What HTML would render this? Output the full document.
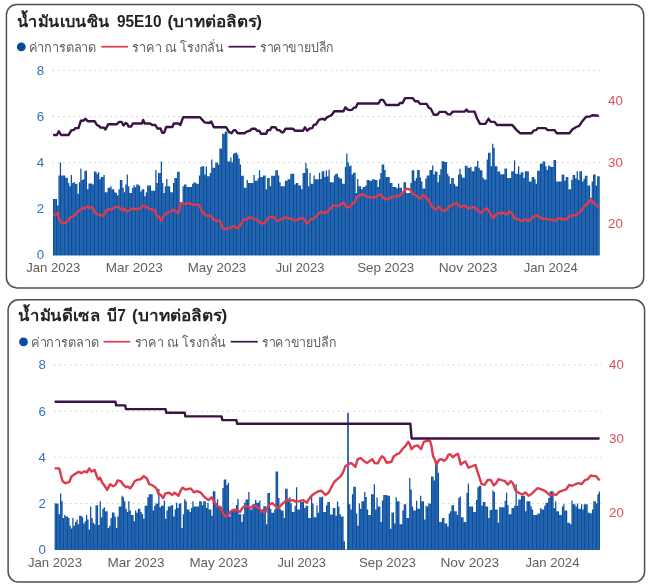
<!DOCTYPE html>
<html><head><meta charset="utf-8"><title>chart</title>
<style>
html,body{margin:0;padding:0;background:#fff;}
body{width:650px;height:588px;overflow:hidden;}
svg{display:block;filter:blur(0.45px);}
.ax{font-family:"Liberation Sans",sans-serif;font-size:13.3px;}
.xl{font-family:"Liberation Sans",sans-serif;font-size:13px;}
.tt{font-family:"Liberation Sans",sans-serif;font-size:15.6px;font-weight:bold;}
.lg{font-family:"Liberation Sans",sans-serif;font-size:13px;}
</style></head><body>
<svg width="650" height="588" viewBox="0 0 650 588">
<rect width="650" height="588" fill="#fff"/>
<rect x="6.4" y="4.4" width="637.3000000000001" height="283.5" rx="10.5" ry="10.5" fill="#fff" stroke="#505050" stroke-width="1.5"/>
<line x1="52.5" x2="600.0" y1="208.8" y2="208.8" stroke="#cccccc" stroke-width="1" stroke-dasharray="1.5 3.75"/>
<line x1="52.5" x2="600.0" y1="162.7" y2="162.7" stroke="#cccccc" stroke-width="1" stroke-dasharray="1.5 3.75"/>
<line x1="52.5" x2="600.0" y1="116.6" y2="116.6" stroke="#cccccc" stroke-width="1" stroke-dasharray="1.5 3.75"/>
<line x1="52.5" x2="600.0" y1="70.4" y2="70.4" stroke="#cccccc" stroke-width="1" stroke-dasharray="1.5 3.75"/>
<text x="44.2" y="259.4" text-anchor="end" fill="#3473BA" class="ax">0</text>
<text x="44.2" y="213.2" text-anchor="end" fill="#3473BA" class="ax">2</text>
<text x="44.2" y="167.1" text-anchor="end" fill="#3473BA" class="ax">4</text>
<text x="44.2" y="121.0" text-anchor="end" fill="#3473BA" class="ax">6</text>
<text x="44.2" y="74.8" text-anchor="end" fill="#3473BA" class="ax">8</text>
<text x="608.0" y="104.8" fill="#DA4E59" class="ax">40</text>
<text x="608.0" y="167.1" fill="#DA4E59" class="ax">30</text>
<text x="608.0" y="228.0" fill="#DA4E59" class="ax">20</text>
<path fill="#0850A2" d="M53.00 255.4V198.9h1.25V255.4zM54.36 255.4V198.9h1.25V255.4zM55.73 255.4V198.9h1.25V255.4zM57.09 255.4V205.4h1.25V255.4zM58.45 255.4V175.4h1.25V255.4zM59.82 255.4V162.6h1.25V255.4zM61.18 255.4V175.4h1.25V255.4zM62.55 255.4V175.4h1.25V255.4zM63.91 255.4V175.4h1.25V255.4zM65.27 255.4V177.7h1.25V255.4zM66.64 255.4V177.7h1.25V255.4zM68.00 255.4V183.1h1.25V255.4zM69.36 255.4V186.2h1.25V255.4zM70.73 255.4V174.9h1.25V255.4zM72.09 255.4V183.1h1.25V255.4zM73.46 255.4V182.0h1.25V255.4zM74.82 255.4V183.8h1.25V255.4zM76.18 255.4V183.8h1.25V255.4zM77.55 255.4V193.8h1.25V255.4zM78.91 255.4V182.3h1.25V255.4zM80.27 255.4V168.5h1.25V255.4zM81.64 255.4V180.0h1.25V255.4zM83.00 255.4V179.2h1.25V255.4zM84.37 255.4V170.8h1.25V255.4zM85.73 255.4V170.8h1.25V255.4zM87.09 255.4V189.2h1.25V255.4zM88.46 255.4V183.4h1.25V255.4zM89.82 255.4V183.4h1.25V255.4zM91.18 255.4V183.4h1.25V255.4zM92.55 255.4V184.6h1.25V255.4zM93.91 255.4V171.5h1.25V255.4zM95.27 255.4V171.5h1.25V255.4zM96.64 255.4V173.8h1.25V255.4zM98.00 255.4V172.3h1.25V255.4zM99.37 255.4V179.2h1.25V255.4zM100.73 255.4V176.9h1.25V255.4zM102.09 255.4V176.9h1.25V255.4zM103.46 255.4V174.9h1.25V255.4zM104.82 255.4V192.3h1.25V255.4zM106.18 255.4V192.3h1.25V255.4zM107.55 255.4V187.7h1.25V255.4zM108.91 255.4V187.7h1.25V255.4zM110.28 255.4V186.2h1.25V255.4zM111.64 255.4V189.2h1.25V255.4zM113.00 255.4V189.2h1.25V255.4zM114.37 255.4V192.3h1.25V255.4zM115.73 255.4V193.1h1.25V255.4zM117.09 255.4V195.4h1.25V255.4zM118.46 255.4V189.2h1.25V255.4zM119.82 255.4V180.0h1.25V255.4zM121.19 255.4V180.0h1.25V255.4zM122.55 255.4V187.7h1.25V255.4zM123.91 255.4V192.3h1.25V255.4zM125.28 255.4V184.6h1.25V255.4zM126.64 255.4V174.6h1.25V255.4zM128.00 255.4V186.2h1.25V255.4zM129.37 255.4V193.1h1.25V255.4zM130.73 255.4V193.1h1.25V255.4zM132.09 255.4V187.7h1.25V255.4zM133.46 255.4V185.1h1.25V255.4zM134.82 255.4V187.2h1.25V255.4zM136.19 255.4V184.6h1.25V255.4zM137.55 255.4V184.6h1.25V255.4zM138.91 255.4V185.7h1.25V255.4zM140.28 255.4V191.5h1.25V255.4zM141.64 255.4V189.2h1.25V255.4zM143.00 255.4V189.2h1.25V255.4zM144.37 255.4V196.2h1.25V255.4zM145.73 255.4V192.3h1.25V255.4zM147.10 255.4V185.4h1.25V255.4zM148.46 255.4V185.4h1.25V255.4zM149.82 255.4V185.4h1.25V255.4zM151.19 255.4V190.8h1.25V255.4zM152.55 255.4V190.8h1.25V255.4zM153.91 255.4V190.8h1.25V255.4zM155.28 255.4V170.0h1.25V255.4zM156.64 255.4V183.1h1.25V255.4zM158.00 255.4V173.1h1.25V255.4zM159.37 255.4V173.1h1.25V255.4zM160.73 255.4V161.5h1.25V255.4zM162.10 255.4V183.1h1.25V255.4zM163.46 255.4V193.1h1.25V255.4zM164.82 255.4V186.2h1.25V255.4zM166.19 255.4V178.9h1.25V255.4zM167.55 255.4V186.2h1.25V255.4zM168.91 255.4V186.2h1.25V255.4zM170.28 255.4V192.3h1.25V255.4zM171.64 255.4V192.3h1.25V255.4zM173.01 255.4V183.1h1.25V255.4zM174.37 255.4V178.0h1.25V255.4zM175.73 255.4V178.0h1.25V255.4zM177.10 255.4V171.8h1.25V255.4zM178.46 255.4V171.8h1.25V255.4zM179.82 255.4V202.3h1.25V255.4zM181.19 255.4V202.3h1.25V255.4zM182.55 255.4V186.2h1.25V255.4zM183.92 255.4V184.6h1.25V255.4zM185.28 255.4V184.6h1.25V255.4zM186.64 255.4V186.9h1.25V255.4zM188.01 255.4V186.9h1.25V255.4zM189.37 255.4V186.9h1.25V255.4zM190.73 255.4V186.9h1.25V255.4zM192.10 255.4V183.8h1.25V255.4zM193.46 255.4V182.6h1.25V255.4zM194.82 255.4V182.6h1.25V255.4zM196.19 255.4V183.8h1.25V255.4zM197.55 255.4V183.8h1.25V255.4zM198.92 255.4V175.4h1.25V255.4zM200.28 255.4V166.9h1.25V255.4zM201.64 255.4V166.2h1.25V255.4zM203.01 255.4V166.2h1.25V255.4zM204.37 255.4V174.6h1.25V255.4zM205.73 255.4V166.6h1.25V255.4zM207.10 255.4V176.2h1.25V255.4zM208.46 255.4V176.2h1.25V255.4zM209.83 255.4V173.1h1.25V255.4zM211.19 255.4V159.5h1.25V255.4zM212.55 255.4V167.7h1.25V255.4zM213.92 255.4V167.7h1.25V255.4zM215.28 255.4V162.6h1.25V255.4zM216.64 255.4V162.6h1.25V255.4zM218.01 255.4V164.6h1.25V255.4zM219.37 255.4V148.5h1.25V255.4zM220.74 255.4V148.5h1.25V255.4zM222.10 255.4V133.8h1.25V255.4zM223.46 255.4V133.8h1.25V255.4zM224.83 255.4V131.5h1.25V255.4zM226.19 255.4V131.5h1.25V255.4zM227.55 255.4V161.5h1.25V255.4zM228.92 255.4V161.5h1.25V255.4zM230.28 255.4V157.4h1.25V255.4zM231.64 255.4V162.3h1.25V255.4zM233.01 255.4V153.8h1.25V255.4zM234.37 255.4V152.8h1.25V255.4zM235.74 255.4V152.8h1.25V255.4zM237.10 255.4V154.6h1.25V255.4zM238.46 255.4V158.5h1.25V255.4zM239.83 255.4V164.6h1.25V255.4zM241.19 255.4V175.8h1.25V255.4zM242.55 255.4V175.8h1.25V255.4zM243.92 255.4V187.7h1.25V255.4zM245.28 255.4V187.7h1.25V255.4zM246.65 255.4V180.0h1.25V255.4zM248.01 255.4V183.1h1.25V255.4zM249.37 255.4V183.1h1.25V255.4zM250.74 255.4V183.1h1.25V255.4zM252.10 255.4V183.1h1.25V255.4zM253.46 255.4V174.9h1.25V255.4zM254.83 255.4V180.8h1.25V255.4zM256.19 255.4V180.8h1.25V255.4zM257.55 255.4V178.5h1.25V255.4zM258.92 255.4V170.3h1.25V255.4zM260.28 255.4V176.9h1.25V255.4zM261.65 255.4V176.9h1.25V255.4zM263.01 255.4V175.4h1.25V255.4zM264.37 255.4V175.4h1.25V255.4zM265.74 255.4V189.2h1.25V255.4zM267.10 255.4V178.0h1.25V255.4zM268.46 255.4V178.0h1.25V255.4zM269.83 255.4V186.2h1.25V255.4zM271.19 255.4V175.8h1.25V255.4zM272.56 255.4V175.8h1.25V255.4zM273.92 255.4V175.8h1.25V255.4zM275.28 255.4V170.3h1.25V255.4zM276.65 255.4V170.3h1.25V255.4zM278.01 255.4V175.4h1.25V255.4zM279.37 255.4V182.3h1.25V255.4zM280.74 255.4V186.2h1.25V255.4zM282.10 255.4V186.2h1.25V255.4zM283.47 255.4V186.2h1.25V255.4zM284.83 255.4V180.8h1.25V255.4zM286.19 255.4V180.8h1.25V255.4zM287.56 255.4V179.2h1.25V255.4zM288.92 255.4V179.2h1.25V255.4zM290.28 255.4V173.8h1.25V255.4zM291.65 255.4V173.8h1.25V255.4zM293.01 255.4V173.8h1.25V255.4zM294.37 255.4V184.6h1.25V255.4zM295.74 255.4V183.1h1.25V255.4zM297.10 255.4V183.1h1.25V255.4zM298.47 255.4V185.4h1.25V255.4zM299.83 255.4V185.4h1.25V255.4zM301.19 255.4V189.2h1.25V255.4zM302.56 255.4V173.1h1.25V255.4zM303.92 255.4V173.1h1.25V255.4zM305.28 255.4V163.1h1.25V255.4zM306.65 255.4V168.5h1.25V255.4zM308.01 255.4V186.2h1.25V255.4zM309.38 255.4V173.1h1.25V255.4zM310.74 255.4V183.8h1.25V255.4zM312.10 255.4V183.8h1.25V255.4zM313.47 255.4V175.4h1.25V255.4zM314.83 255.4V179.2h1.25V255.4zM316.19 255.4V179.2h1.25V255.4zM317.56 255.4V179.2h1.25V255.4zM318.92 255.4V172.8h1.25V255.4zM320.29 255.4V178.9h1.25V255.4zM321.65 255.4V171.2h1.25V255.4zM323.01 255.4V171.2h1.25V255.4zM324.38 255.4V176.9h1.25V255.4zM325.74 255.4V170.3h1.25V255.4zM327.10 255.4V176.2h1.25V255.4zM328.47 255.4V169.7h1.25V255.4zM329.83 255.4V182.3h1.25V255.4zM331.19 255.4V182.3h1.25V255.4zM332.56 255.4V182.3h1.25V255.4zM333.92 255.4V175.4h1.25V255.4zM335.29 255.4V173.8h1.25V255.4zM336.65 255.4V173.8h1.25V255.4zM338.01 255.4V176.9h1.25V255.4zM339.38 255.4V178.5h1.25V255.4zM340.74 255.4V178.5h1.25V255.4zM342.10 255.4V183.8h1.25V255.4zM343.47 255.4V183.8h1.25V255.4zM344.83 255.4V166.9h1.25V255.4zM346.20 255.4V153.4h1.25V255.4zM347.56 255.4V162.3h1.25V255.4zM348.92 255.4V166.2h1.25V255.4zM350.29 255.4V165.4h1.25V255.4zM351.65 255.4V174.6h1.25V255.4zM353.01 255.4V172.8h1.25V255.4zM354.38 255.4V172.8h1.25V255.4zM355.74 255.4V193.1h1.25V255.4zM357.11 255.4V178.9h1.25V255.4zM358.47 255.4V186.2h1.25V255.4zM359.83 255.4V186.2h1.25V255.4zM361.20 255.4V189.2h1.25V255.4zM362.56 255.4V186.9h1.25V255.4zM363.92 255.4V186.9h1.25V255.4zM365.29 255.4V185.4h1.25V255.4zM366.65 255.4V180.0h1.25V255.4zM368.01 255.4V180.0h1.25V255.4zM369.38 255.4V180.8h1.25V255.4zM370.74 255.4V180.8h1.25V255.4zM372.11 255.4V179.2h1.25V255.4zM373.47 255.4V179.2h1.25V255.4zM374.83 255.4V180.0h1.25V255.4zM376.20 255.4V180.0h1.25V255.4zM377.56 255.4V186.9h1.25V255.4zM378.92 255.4V179.2h1.25V255.4zM380.29 255.4V173.1h1.25V255.4zM381.65 255.4V164.6h1.25V255.4zM383.02 255.4V164.6h1.25V255.4zM384.38 255.4V170.0h1.25V255.4zM385.74 255.4V176.9h1.25V255.4zM387.11 255.4V176.9h1.25V255.4zM388.47 255.4V176.9h1.25V255.4zM389.83 255.4V183.1h1.25V255.4zM391.20 255.4V183.1h1.25V255.4zM392.56 255.4V186.9h1.25V255.4zM393.92 255.4V186.9h1.25V255.4zM395.29 255.4V186.9h1.25V255.4zM396.65 255.4V188.5h1.25V255.4zM398.02 255.4V183.5h1.25V255.4zM399.38 255.4V187.7h1.25V255.4zM400.74 255.4V187.7h1.25V255.4zM402.11 255.4V192.3h1.25V255.4zM403.47 255.4V182.3h1.25V255.4zM404.83 255.4V182.3h1.25V255.4zM406.20 255.4V193.1h1.25V255.4zM407.56 255.4V193.1h1.25V255.4zM408.93 255.4V193.1h1.25V255.4zM410.29 255.4V183.1h1.25V255.4zM411.65 255.4V170.3h1.25V255.4zM413.02 255.4V170.3h1.25V255.4zM414.38 255.4V180.8h1.25V255.4zM415.74 255.4V178.0h1.25V255.4zM417.11 255.4V170.0h1.25V255.4zM418.47 255.4V170.0h1.25V255.4zM419.84 255.4V177.4h1.25V255.4zM421.20 255.4V181.5h1.25V255.4zM422.56 255.4V188.5h1.25V255.4zM423.93 255.4V188.5h1.25V255.4zM425.29 255.4V178.5h1.25V255.4zM426.65 255.4V175.4h1.25V255.4zM428.02 255.4V175.4h1.25V255.4zM429.38 255.4V170.0h1.25V255.4zM430.74 255.4V170.0h1.25V255.4zM432.11 255.4V165.4h1.25V255.4zM433.47 255.4V174.6h1.25V255.4zM434.84 255.4V171.5h1.25V255.4zM436.20 255.4V171.5h1.25V255.4zM437.56 255.4V182.3h1.25V255.4zM438.93 255.4V174.9h1.25V255.4zM440.29 255.4V169.2h1.25V255.4zM441.65 255.4V161.2h1.25V255.4zM443.02 255.4V161.2h1.25V255.4zM444.38 255.4V162.0h1.25V255.4zM445.75 255.4V162.0h1.25V255.4zM447.11 255.4V173.8h1.25V255.4zM448.47 255.4V176.2h1.25V255.4zM449.84 255.4V183.8h1.25V255.4zM451.20 255.4V178.0h1.25V255.4zM452.56 255.4V178.0h1.25V255.4zM453.93 255.4V183.8h1.25V255.4zM455.29 255.4V186.2h1.25V255.4zM456.66 255.4V186.2h1.25V255.4zM458.02 255.4V174.6h1.25V255.4zM459.38 255.4V168.8h1.25V255.4zM460.75 255.4V174.6h1.25V255.4zM462.11 255.4V177.7h1.25V255.4zM463.47 255.4V177.7h1.25V255.4zM464.84 255.4V165.7h1.25V255.4zM466.20 255.4V165.7h1.25V255.4zM467.56 255.4V167.7h1.25V255.4zM468.93 255.4V167.7h1.25V255.4zM470.29 255.4V166.9h1.25V255.4zM471.66 255.4V171.2h1.25V255.4zM473.02 255.4V171.2h1.25V255.4zM474.38 255.4V166.6h1.25V255.4zM475.75 255.4V166.6h1.25V255.4zM477.11 255.4V160.8h1.25V255.4zM478.47 255.4V167.7h1.25V255.4zM479.84 255.4V170.3h1.25V255.4zM481.20 255.4V170.3h1.25V255.4zM482.57 255.4V177.7h1.25V255.4zM483.93 255.4V179.5h1.25V255.4zM485.29 255.4V179.5h1.25V255.4zM486.66 255.4V159.5h1.25V255.4zM488.02 255.4V152.8h1.25V255.4zM489.38 255.4V152.8h1.25V255.4zM490.75 255.4V166.2h1.25V255.4zM492.11 255.4V143.8h1.25V255.4zM493.48 255.4V147.7h1.25V255.4zM494.84 255.4V166.2h1.25V255.4zM496.20 255.4V166.2h1.25V255.4zM497.57 255.4V171.5h1.25V255.4zM498.93 255.4V171.5h1.25V255.4zM500.29 255.4V174.3h1.25V255.4zM501.66 255.4V174.3h1.25V255.4zM503.02 255.4V174.3h1.25V255.4zM504.38 255.4V168.5h1.25V255.4zM505.75 255.4V168.5h1.25V255.4zM507.11 255.4V178.0h1.25V255.4zM508.48 255.4V178.0h1.25V255.4zM509.84 255.4V178.0h1.25V255.4zM511.20 255.4V171.2h1.25V255.4zM512.57 255.4V171.2h1.25V255.4zM513.93 255.4V160.3h1.25V255.4zM515.29 255.4V173.8h1.25V255.4zM516.66 255.4V173.8h1.25V255.4zM518.02 255.4V166.2h1.25V255.4zM519.39 255.4V174.6h1.25V255.4zM520.75 255.4V172.3h1.25V255.4zM522.11 255.4V172.3h1.25V255.4zM523.48 255.4V178.0h1.25V255.4zM524.84 255.4V171.2h1.25V255.4zM526.20 255.4V171.2h1.25V255.4zM527.57 255.4V171.2h1.25V255.4zM528.93 255.4V181.5h1.25V255.4zM530.29 255.4V181.5h1.25V255.4zM531.66 255.4V176.9h1.25V255.4zM533.02 255.4V176.9h1.25V255.4zM534.39 255.4V179.2h1.25V255.4zM535.75 255.4V183.8h1.25V255.4zM537.11 255.4V170.8h1.25V255.4zM538.48 255.4V170.8h1.25V255.4zM539.84 255.4V163.8h1.25V255.4zM541.20 255.4V163.8h1.25V255.4zM542.57 255.4V161.5h1.25V255.4zM543.93 255.4V161.5h1.25V255.4zM545.30 255.4V166.2h1.25V255.4zM546.66 255.4V170.0h1.25V255.4zM548.02 255.4V165.4h1.25V255.4zM549.39 255.4V166.2h1.25V255.4zM550.75 255.4V166.9h1.25V255.4zM552.11 255.4V166.9h1.25V255.4zM553.48 255.4V160.0h1.25V255.4zM554.84 255.4V160.0h1.25V255.4zM556.21 255.4V181.5h1.25V255.4zM557.57 255.4V181.5h1.25V255.4zM558.93 255.4V181.5h1.25V255.4zM560.30 255.4V181.5h1.25V255.4zM561.66 255.4V174.6h1.25V255.4zM563.02 255.4V174.6h1.25V255.4zM564.39 255.4V180.8h1.25V255.4zM565.75 255.4V176.9h1.25V255.4zM567.11 255.4V176.9h1.25V255.4zM568.48 255.4V189.2h1.25V255.4zM569.84 255.4V189.2h1.25V255.4zM571.21 255.4V180.0h1.25V255.4zM572.57 255.4V174.9h1.25V255.4zM573.93 255.4V174.9h1.25V255.4zM575.30 255.4V178.5h1.25V255.4zM576.66 255.4V171.2h1.25V255.4zM578.02 255.4V180.0h1.25V255.4zM579.39 255.4V171.2h1.25V255.4zM580.75 255.4V171.2h1.25V255.4zM582.12 255.4V181.5h1.25V255.4zM583.48 255.4V178.9h1.25V255.4zM584.84 255.4V175.8h1.25V255.4zM586.21 255.4V175.8h1.25V255.4zM587.57 255.4V185.4h1.25V255.4zM588.93 255.4V185.4h1.25V255.4zM590.30 255.4V197.7h1.25V255.4zM591.66 255.4V181.5h1.25V255.4zM593.03 255.4V174.6h1.25V255.4zM594.39 255.4V174.6h1.25V255.4zM595.75 255.4V185.4h1.25V255.4zM597.12 255.4V176.2h1.25V255.4zM598.48 255.4V176.2h1.25V255.4z"/>

<polyline fill="none" stroke="#DE3A4E" stroke-width="2.4" stroke-linejoin="round" stroke-linecap="butt" points="53.1,214.9 56.2,214.6 57.7,212.3 59.2,219.2 60.8,222.3 63.8,223.1 66.9,222.0 69.2,218.9 71.5,216.9 74.6,215.4 77.7,211.5 80.8,209.7 82.6,207.7 84.6,208.5 87.7,206.2 89.2,207.7 92.3,207.4 94.6,211.5 96.2,213.8 99.2,214.9 103.1,215.8 104.6,213.8 106.2,210.3 108.5,209.2 111.5,209.7 114.6,207.4 118.5,206.6 120.8,209.2 123.1,210.3 124.6,208.8 126.9,211.8 129.2,210.3 132.3,208.5 136.2,209.2 140.0,208.8 143.1,205.4 146.2,206.9 150.0,209.2 154.6,209.7 156.2,214.6 159.2,217.7 161.1,220.5 163.8,215.4 166.9,213.1 170.0,211.5 173.1,209.7 176.2,211.8 178.5,213.1 180.8,203.1 184.6,203.8 189.2,203.1 193.8,205.1 198.5,204.2 201.5,210.0 204.6,214.6 207.7,216.2 210.8,215.4 213.1,219.2 216.9,221.1 220.0,220.5 222.3,227.7 225.4,229.2 229.2,228.2 233.1,226.2 237.7,228.5 240.8,224.2 243.8,219.5 246.9,219.5 250.0,216.9 253.1,218.5 256.9,220.0 260.8,223.1 264.6,223.5 266.9,219.2 270.0,216.9 273.8,216.9 276.9,221.1 280.8,219.5 285.4,217.4 290.0,218.5 294.6,220.5 299.2,219.2 303.1,218.0 306.9,223.8 310.8,219.5 313.8,218.5 317.7,214.6 321.5,211.8 325.4,213.1 329.2,210.3 333.1,205.4 336.2,206.2 340.0,205.1 343.8,202.6 346.9,207.7 350.0,206.9 352.3,203.8 354.6,202.0 356.9,196.9 360.0,194.9 363.1,194.6 366.9,196.5 370.0,197.4 375.4,197.4 378.5,194.9 380.8,194.3 383.1,197.7 386.2,199.5 389.2,198.5 392.3,196.9 396.2,196.5 400.0,195.4 403.1,192.3 406.2,188.8 409.2,189.2 411.5,191.5 413.8,194.6 416.9,196.2 420.0,198.5 423.1,194.9 426.2,197.7 429.2,200.8 431.5,205.7 433.8,208.8 436.2,209.2 438.5,206.2 440.8,208.8 443.1,210.8 446.2,210.0 448.5,207.7 450.0,206.2 453.1,204.2 456.9,203.1 460.0,207.2 464.6,205.4 468.5,208.5 473.8,206.9 477.7,210.3 480.8,212.8 483.8,210.3 486.9,208.2 490.0,212.8 493.1,218.5 496.2,214.3 499.2,213.1 503.1,212.8 506.2,214.6 509.2,211.2 512.3,213.8 514.6,218.5 517.7,219.2 521.5,220.8 525.4,219.5 528.5,221.1 532.3,217.7 536.2,215.4 539.2,216.9 543.1,219.2 546.2,218.5 550.0,220.0 552.3,219.5 555.1,220.8 557.7,218.5 560.8,218.5 563.8,219.5 566.9,219.2 569.2,216.2 573.1,215.4 576.9,214.6 580.8,211.2 583.8,206.9 587.7,203.1 590.8,199.5 593.8,203.1 596.9,205.7 598.8,206.9"/>
<polyline fill="none" stroke="#3C1246" stroke-width="2.4" stroke-linejoin="round" stroke-linecap="butt" points="53.1,135.0 56.9,135.0 58.8,131.2 61.1,135.0 68.5,135.0 71.5,130.1 73.8,130.1 75.4,128.1 78.5,128.1 80.8,120.8 83.1,120.8 85.4,118.8 87.7,121.2 94.6,121.2 96.9,125.0 99.2,126.1 100.5,127.6 103.8,127.6 105.4,129.6 108.2,124.2 116.9,124.2 119.2,121.9 121.5,121.9 123.5,125.5 125.7,123.0 127.2,123.9 128.5,126.5 131.2,126.5 132.8,123.5 142.0,123.5 143.2,119.9 144.8,123.5 150.0,123.5 152.3,125.0 155.4,125.0 157.4,128.5 160.5,128.5 162.3,132.7 164.2,132.7 166.2,127.0 172.3,127.0 173.8,123.5 178.5,123.5 180.3,125.0 183.1,117.3 200.0,117.3 204.6,122.4 209.2,123.0 211.2,121.5 213.8,127.3 226.2,127.3 229.2,132.2 231.5,133.2 233.8,130.1 235.4,130.1 237.7,133.2 244.6,133.2 246.9,131.6 250.0,130.7 251.8,128.8 255.4,128.8 256.9,130.7 259.2,130.7 261.1,133.8 266.2,133.8 267.7,130.1 270.0,130.1 271.5,127.3 275.4,127.3 277.4,130.1 279.5,130.1 281.5,132.2 283.5,132.2 285.4,128.8 293.1,128.8 294.9,130.7 303.1,130.7 304.9,127.3 307.2,130.7 309.7,128.5 312.3,128.1 313.8,125.0 315.8,124.5 319.2,119.6 323.1,118.8 324.6,119.9 326.2,118.1 328.5,116.5 331.5,115.3 334.3,111.2 343.5,111.2 345.4,107.3 347.7,109.6 350.0,110.1 352.3,109.6 353.8,107.6 355.8,107.6 357.7,103.5 378.5,103.5 380.5,99.9 383.1,99.9 386.2,105.0 398.5,105.0 400.0,103.0 402.6,103.0 405.1,98.1 412.8,98.1 414.9,101.2 418.0,101.2 420.0,103.9 426.6,103.9 428.8,107.6 430.8,108.8 433.8,114.7 437.4,114.7 439.5,111.9 445.4,111.9 447.7,114.2 450.0,114.7 452.8,111.6 464.6,111.6 466.5,109.6 468.2,111.6 474.6,111.6 476.9,118.1 480.0,123.9 485.4,123.9 488.5,118.8 490.8,121.9 494.6,121.9 496.9,125.0 512.3,125.0 516.2,129.6 520.0,133.2 531.5,133.2 533.8,130.4 536.2,130.1 537.7,128.1 545.4,128.1 547.7,130.1 550.0,130.1 554.6,130.1 556.6,133.2 569.5,133.2 572.3,129.6 576.2,127.0 579.2,125.8 582.3,121.2 586.2,116.8 590.0,116.5 592.3,115.3 598.8,115.8"/>
<text x="26.2" y="272.2" textLength="54.1" lengthAdjust="spacingAndGlyphs" fill="#605E5C" class="xl">Jan 2023</text>
<text x="105.7" y="272.2" textLength="57.1" lengthAdjust="spacingAndGlyphs" fill="#605E5C" class="xl">Mar 2023</text>
<text x="187.7" y="272.2" textLength="58.6" lengthAdjust="spacingAndGlyphs" fill="#605E5C" class="xl">May 2023</text>
<text x="275.7" y="272.2" textLength="48.6" lengthAdjust="spacingAndGlyphs" fill="#605E5C" class="xl">Jul 2023</text>
<text x="357.2" y="272.2" textLength="57.1" lengthAdjust="spacingAndGlyphs" fill="#605E5C" class="xl">Sep 2023</text>
<text x="438.7" y="272.2" textLength="58.8" lengthAdjust="spacingAndGlyphs" fill="#605E5C" class="xl">Nov 2023</text>
<text x="523.7" y="272.2" textLength="54.1" lengthAdjust="spacingAndGlyphs" fill="#605E5C" class="xl">Jan 2024</text>
<text x="16.9" y="27.4" textLength="93.1" lengthAdjust="spacingAndGlyphs" fill="#252423" class="tt">น้ำมันเบนซิน</text>
<text x="116.9" y="27.4" textLength="44.6" lengthAdjust="spacingAndGlyphs" fill="#252423" class="tt">95E10</text>
<text x="167.4" y="27.4" textLength="94.6" lengthAdjust="spacingAndGlyphs" fill="#252423" class="tt">(บาทต่อลิตร)</text>
<circle cx="21.3" cy="46.9" r="4.4" fill="#0B4A9E"/>
<text x="28.5" y="52.1" textLength="67.7" lengthAdjust="spacingAndGlyphs" fill="#605E5C" class="lg">ค่าการตลาด</text>
<line x1="101.3" x2="128.1" y1="46.7" y2="46.7" stroke="#DE3A4E" stroke-width="1.7"/>
<text x="132.4" y="52.1" textLength="91.6" lengthAdjust="spacingAndGlyphs" fill="#605E5C" class="lg">ราคา ณ โรงกลั่น</text>
<line x1="228.5" x2="255.6" y1="46.7" y2="46.7" stroke="#3C1246" stroke-width="1.7"/>
<text x="259.9" y="52.1" textLength="74.2" lengthAdjust="spacingAndGlyphs" fill="#605E5C" class="lg">ราคาขายปลีก</text>
<rect x="8.1" y="299.8" width="636.5" height="282.3" rx="10.5" ry="10.5" fill="#fff" stroke="#505050" stroke-width="1.5"/>
<line x1="54.1" x2="601.0" y1="503.5" y2="503.5" stroke="#cccccc" stroke-width="1" stroke-dasharray="1.5 3.75"/>
<line x1="54.1" x2="601.0" y1="457.3" y2="457.3" stroke="#cccccc" stroke-width="1" stroke-dasharray="1.5 3.75"/>
<line x1="54.1" x2="601.0" y1="411.2" y2="411.2" stroke="#cccccc" stroke-width="1" stroke-dasharray="1.5 3.75"/>
<line x1="54.1" x2="601.0" y1="365.0" y2="365.0" stroke="#cccccc" stroke-width="1" stroke-dasharray="1.5 3.75"/>
<text x="45.8" y="554.0" text-anchor="end" fill="#3473BA" class="ax">0</text>
<text x="45.8" y="507.9" text-anchor="end" fill="#3473BA" class="ax">2</text>
<text x="45.8" y="461.7" text-anchor="end" fill="#3473BA" class="ax">4</text>
<text x="45.8" y="415.6" text-anchor="end" fill="#3473BA" class="ax">6</text>
<text x="45.8" y="369.4" text-anchor="end" fill="#3473BA" class="ax">8</text>
<text x="609.0" y="369.0" fill="#DA4E59" class="ax">40</text>
<text x="609.0" y="442.5" fill="#DA4E59" class="ax">30</text>
<text x="609.0" y="517.3" fill="#DA4E59" class="ax">20</text>
<path fill="#0850A2" d="M54.60 550.0V503.5h1.25V550.0zM55.96 550.0V503.5h1.25V550.0zM57.33 550.0V503.5h1.25V550.0zM58.69 550.0V514.2h1.25V550.0zM60.05 550.0V493.5h1.25V550.0zM61.42 550.0V501.2h1.25V550.0zM62.78 550.0V518.1h1.25V550.0zM64.15 550.0V515.0h1.25V550.0zM65.51 550.0V516.5h1.25V550.0zM66.87 550.0V516.5h1.25V550.0zM68.24 550.0V518.1h1.25V550.0zM69.60 550.0V525.8h1.25V550.0zM70.96 550.0V528.4h1.25V550.0zM72.33 550.0V518.1h1.25V550.0zM73.69 550.0V525.8h1.25V550.0zM75.06 550.0V521.9h1.25V550.0zM76.42 550.0V519.6h1.25V550.0zM77.78 550.0V524.2h1.25V550.0zM79.15 550.0V515.8h1.25V550.0zM80.51 550.0V515.8h1.25V550.0zM81.87 550.0V517.3h1.25V550.0zM83.24 550.0V523.5h1.25V550.0zM84.60 550.0V521.2h1.25V550.0zM85.97 550.0V515.0h1.25V550.0zM87.33 550.0V519.6h1.25V550.0zM88.69 550.0V529.6h1.25V550.0zM90.06 550.0V506.5h1.25V550.0zM91.42 550.0V518.1h1.25V550.0zM92.78 550.0V522.7h1.25V550.0zM94.15 550.0V524.2h1.25V550.0zM95.51 550.0V505.3h1.25V550.0zM96.87 550.0V505.3h1.25V550.0zM98.24 550.0V525.0h1.25V550.0zM99.60 550.0V501.2h1.25V550.0zM100.97 550.0V517.3h1.25V550.0zM102.33 550.0V508.8h1.25V550.0zM103.69 550.0V507.3h1.25V550.0zM105.06 550.0V511.2h1.25V550.0zM106.42 550.0V511.2h1.25V550.0zM107.78 550.0V528.1h1.25V550.0zM109.15 550.0V525.8h1.25V550.0zM110.51 550.0V518.1h1.25V550.0zM111.88 550.0V512.4h1.25V550.0zM113.24 550.0V512.4h1.25V550.0zM114.60 550.0V516.5h1.25V550.0zM115.97 550.0V528.1h1.25V550.0zM117.33 550.0V516.5h1.25V550.0zM118.69 550.0V506.5h1.25V550.0zM120.06 550.0V506.5h1.25V550.0zM121.42 550.0V495.8h1.25V550.0zM122.78 550.0V497.3h1.25V550.0zM124.15 550.0V501.2h1.25V550.0zM125.51 550.0V508.8h1.25V550.0zM126.88 550.0V511.9h1.25V550.0zM128.24 550.0V501.2h1.25V550.0zM129.60 550.0V510.4h1.25V550.0zM130.97 550.0V515.0h1.25V550.0zM132.33 550.0V515.0h1.25V550.0zM133.69 550.0V521.2h1.25V550.0zM135.06 550.0V510.4h1.25V550.0zM136.42 550.0V512.7h1.25V550.0zM137.79 550.0V508.8h1.25V550.0zM139.15 550.0V508.8h1.25V550.0zM140.51 550.0V511.9h1.25V550.0zM141.88 550.0V514.2h1.25V550.0zM143.24 550.0V518.8h1.25V550.0zM144.60 550.0V505.8h1.25V550.0zM145.97 550.0V505.8h1.25V550.0zM147.33 550.0V497.3h1.25V550.0zM148.70 550.0V494.2h1.25V550.0zM150.06 550.0V494.2h1.25V550.0zM151.42 550.0V494.2h1.25V550.0zM152.79 550.0V510.4h1.25V550.0zM154.15 550.0V505.8h1.25V550.0zM155.51 550.0V503.5h1.25V550.0zM156.88 550.0V503.5h1.25V550.0zM158.24 550.0V488.8h1.25V550.0zM159.60 550.0V507.3h1.25V550.0zM160.97 550.0V505.8h1.25V550.0zM162.33 550.0V505.8h1.25V550.0zM163.70 550.0V500.4h1.25V550.0zM165.06 550.0V518.8h1.25V550.0zM166.42 550.0V510.4h1.25V550.0zM167.79 550.0V506.5h1.25V550.0zM169.15 550.0V506.5h1.25V550.0zM170.51 550.0V505.3h1.25V550.0zM171.88 550.0V505.3h1.25V550.0zM173.24 550.0V516.5h1.25V550.0zM174.61 550.0V509.6h1.25V550.0zM175.97 550.0V502.7h1.25V550.0zM177.33 550.0V508.1h1.25V550.0zM178.70 550.0V503.5h1.25V550.0zM180.06 550.0V503.5h1.25V550.0zM181.42 550.0V528.1h1.25V550.0zM182.79 550.0V514.2h1.25V550.0zM184.15 550.0V499.2h1.25V550.0zM185.52 550.0V501.2h1.25V550.0zM186.88 550.0V509.6h1.25V550.0zM188.24 550.0V509.6h1.25V550.0zM189.61 550.0V511.9h1.25V550.0zM190.97 550.0V508.1h1.25V550.0zM192.33 550.0V501.2h1.25V550.0zM193.70 550.0V506.5h1.25V550.0zM195.06 550.0V506.5h1.25V550.0zM196.42 550.0V506.5h1.25V550.0zM197.79 550.0V506.5h1.25V550.0zM199.15 550.0V501.2h1.25V550.0zM200.52 550.0V501.2h1.25V550.0zM201.88 550.0V505.3h1.25V550.0zM203.24 550.0V501.2h1.25V550.0zM204.61 550.0V501.2h1.25V550.0zM205.97 550.0V508.1h1.25V550.0zM207.33 550.0V502.7h1.25V550.0zM208.70 550.0V509.6h1.25V550.0zM210.06 550.0V509.6h1.25V550.0zM211.43 550.0V515.8h1.25V550.0zM212.79 550.0V491.2h1.25V550.0zM214.15 550.0V491.2h1.25V550.0zM215.52 550.0V503.5h1.25V550.0zM216.88 550.0V499.2h1.25V550.0zM218.24 550.0V507.3h1.25V550.0zM219.61 550.0V507.3h1.25V550.0zM220.97 550.0V509.6h1.25V550.0zM222.34 550.0V488.1h1.25V550.0zM223.70 550.0V479.6h1.25V550.0zM225.06 550.0V479.6h1.25V550.0zM226.43 550.0V485.0h1.25V550.0zM227.79 550.0V482.7h1.25V550.0zM229.15 550.0V516.5h1.25V550.0zM230.52 550.0V511.2h1.25V550.0zM231.88 550.0V511.2h1.25V550.0zM233.24 550.0V509.6h1.25V550.0zM234.61 550.0V509.6h1.25V550.0zM235.97 550.0V505.0h1.25V550.0zM237.34 550.0V498.8h1.25V550.0zM238.70 550.0V514.2h1.25V550.0zM240.06 550.0V514.2h1.25V550.0zM241.43 550.0V521.9h1.25V550.0zM242.79 550.0V514.2h1.25V550.0zM244.15 550.0V502.7h1.25V550.0zM245.52 550.0V499.6h1.25V550.0zM246.88 550.0V499.6h1.25V550.0zM248.25 550.0V491.9h1.25V550.0zM249.61 550.0V509.6h1.25V550.0zM250.97 550.0V509.6h1.25V550.0zM252.34 550.0V504.2h1.25V550.0zM253.70 550.0V504.2h1.25V550.0zM255.06 550.0V500.1h1.25V550.0zM256.43 550.0V502.7h1.25V550.0zM257.79 550.0V502.7h1.25V550.0zM259.15 550.0V500.4h1.25V550.0zM260.52 550.0V509.6h1.25V550.0zM261.88 550.0V509.6h1.25V550.0zM263.25 550.0V506.2h1.25V550.0zM264.61 550.0V506.2h1.25V550.0zM265.97 550.0V524.2h1.25V550.0zM267.34 550.0V493.0h1.25V550.0zM268.70 550.0V493.0h1.25V550.0zM270.06 550.0V508.8h1.25V550.0zM271.43 550.0V512.7h1.25V550.0zM272.79 550.0V512.7h1.25V550.0zM274.16 550.0V509.6h1.25V550.0zM275.52 550.0V471.5h1.25V550.0zM276.88 550.0V471.5h1.25V550.0zM278.25 550.0V498.1h1.25V550.0zM279.61 550.0V508.8h1.25V550.0zM280.97 550.0V510.4h1.25V550.0zM282.34 550.0V510.4h1.25V550.0zM283.70 550.0V518.1h1.25V550.0zM285.07 550.0V488.8h1.25V550.0zM286.43 550.0V488.8h1.25V550.0zM287.79 550.0V501.2h1.25V550.0zM289.16 550.0V497.3h1.25V550.0zM290.52 550.0V503.5h1.25V550.0zM291.88 550.0V511.9h1.25V550.0zM293.25 550.0V511.9h1.25V550.0zM294.61 550.0V505.8h1.25V550.0zM295.97 550.0V487.3h1.25V550.0zM297.34 550.0V509.6h1.25V550.0zM298.70 550.0V509.6h1.25V550.0zM300.07 550.0V501.9h1.25V550.0zM301.43 550.0V501.9h1.25V550.0zM302.79 550.0V501.9h1.25V550.0zM304.16 550.0V508.1h1.25V550.0zM305.52 550.0V505.8h1.25V550.0zM306.88 550.0V505.8h1.25V550.0zM308.25 550.0V518.1h1.25V550.0zM309.61 550.0V518.1h1.25V550.0zM310.98 550.0V495.0h1.25V550.0zM312.34 550.0V503.5h1.25V550.0zM313.70 550.0V517.3h1.25V550.0zM315.07 550.0V517.3h1.25V550.0zM316.43 550.0V505.3h1.25V550.0zM317.79 550.0V512.7h1.25V550.0zM319.16 550.0V497.3h1.25V550.0zM320.52 550.0V497.3h1.25V550.0zM321.89 550.0V496.5h1.25V550.0zM323.25 550.0V511.9h1.25V550.0zM324.61 550.0V511.9h1.25V550.0zM325.98 550.0V505.3h1.25V550.0zM327.34 550.0V501.9h1.25V550.0zM328.70 550.0V501.9h1.25V550.0zM330.07 550.0V514.5h1.25V550.0zM331.43 550.0V514.5h1.25V550.0zM332.79 550.0V508.1h1.25V550.0zM334.16 550.0V508.1h1.25V550.0zM335.52 550.0V515.8h1.25V550.0zM336.89 550.0V501.6h1.25V550.0zM338.25 550.0V506.5h1.25V550.0zM339.61 550.0V514.2h1.25V550.0zM340.98 550.0V516.5h1.25V550.0zM342.34 550.0V516.5h1.25V550.0zM343.70 550.0V541.2h1.25V550.0zM345.07 550.0V549.6h1.25V550.0zM346.43 550.0V549.6h1.25V550.0zM347.80 550.0V504.2h1.25V550.0zM349.16 550.0V504.2h1.25V550.0zM350.52 550.0V509.6h1.25V550.0zM351.89 550.0V494.2h1.25V550.0zM353.25 550.0V486.8h1.25V550.0zM354.61 550.0V486.8h1.25V550.0zM355.98 550.0V513.5h1.25V550.0zM357.34 550.0V525.8h1.25V550.0zM358.71 550.0V503.5h1.25V550.0zM360.07 550.0V508.8h1.25V550.0zM361.43 550.0V501.2h1.25V550.0zM362.80 550.0V501.2h1.25V550.0zM364.16 550.0V491.9h1.25V550.0zM365.52 550.0V497.0h1.25V550.0zM366.89 550.0V509.6h1.25V550.0zM368.25 550.0V515.0h1.25V550.0zM369.61 550.0V515.0h1.25V550.0zM370.98 550.0V494.2h1.25V550.0zM372.34 550.0V494.2h1.25V550.0zM373.71 550.0V484.2h1.25V550.0zM375.07 550.0V509.6h1.25V550.0zM376.43 550.0V497.6h1.25V550.0zM377.80 550.0V506.5h1.25V550.0zM379.16 550.0V506.5h1.25V550.0zM380.52 550.0V521.9h1.25V550.0zM381.89 550.0V500.4h1.25V550.0zM383.25 550.0V495.0h1.25V550.0zM384.62 550.0V495.0h1.25V550.0zM385.98 550.0V495.0h1.25V550.0zM387.34 550.0V495.8h1.25V550.0zM388.71 550.0V495.8h1.25V550.0zM390.07 550.0V528.8h1.25V550.0zM391.43 550.0V512.4h1.25V550.0zM392.80 550.0V512.4h1.25V550.0zM394.16 550.0V523.5h1.25V550.0zM395.52 550.0V497.3h1.25V550.0zM396.89 550.0V501.2h1.25V550.0zM398.25 550.0V501.2h1.25V550.0zM399.62 550.0V524.2h1.25V550.0zM400.98 550.0V524.2h1.25V550.0zM402.34 550.0V510.4h1.25V550.0zM403.71 550.0V504.2h1.25V550.0zM405.07 550.0V504.2h1.25V550.0zM406.43 550.0V518.1h1.25V550.0zM407.80 550.0V518.1h1.25V550.0zM409.16 550.0V478.1h1.25V550.0zM410.53 550.0V489.6h1.25V550.0zM411.89 550.0V506.5h1.25V550.0zM413.25 550.0V510.4h1.25V550.0zM414.62 550.0V510.4h1.25V550.0zM415.98 550.0V500.7h1.25V550.0zM417.34 550.0V508.8h1.25V550.0zM418.71 550.0V508.8h1.25V550.0zM420.07 550.0V495.8h1.25V550.0zM421.44 550.0V501.2h1.25V550.0zM422.80 550.0V501.2h1.25V550.0zM424.16 550.0V519.6h1.25V550.0zM425.53 550.0V505.8h1.25V550.0zM426.89 550.0V506.5h1.25V550.0zM428.25 550.0V503.5h1.25V550.0zM429.62 550.0V503.5h1.25V550.0zM430.98 550.0V476.5h1.25V550.0zM432.34 550.0V476.5h1.25V550.0zM433.71 550.0V480.4h1.25V550.0zM435.07 550.0V460.7h1.25V550.0zM436.44 550.0V460.7h1.25V550.0zM437.80 550.0V472.7h1.25V550.0zM439.16 550.0V521.9h1.25V550.0zM440.53 550.0V521.9h1.25V550.0zM441.89 550.0V518.1h1.25V550.0zM443.25 550.0V518.1h1.25V550.0zM444.62 550.0V523.5h1.25V550.0zM445.98 550.0V523.5h1.25V550.0zM447.35 550.0V526.5h1.25V550.0zM448.71 550.0V513.5h1.25V550.0zM450.07 550.0V511.2h1.25V550.0zM451.44 550.0V505.3h1.25V550.0zM452.80 550.0V505.3h1.25V550.0zM454.16 550.0V511.2h1.25V550.0zM455.53 550.0V511.2h1.25V550.0zM456.89 550.0V515.0h1.25V550.0zM458.26 550.0V498.1h1.25V550.0zM459.62 550.0V496.5h1.25V550.0zM460.98 550.0V517.3h1.25V550.0zM462.35 550.0V517.3h1.25V550.0zM463.71 550.0V521.9h1.25V550.0zM465.07 550.0V521.9h1.25V550.0zM466.44 550.0V492.7h1.25V550.0zM467.80 550.0V483.5h1.25V550.0zM469.16 550.0V506.5h1.25V550.0zM470.53 550.0V506.5h1.25V550.0zM471.89 550.0V506.5h1.25V550.0zM473.26 550.0V511.9h1.25V550.0zM474.62 550.0V511.9h1.25V550.0zM475.98 550.0V500.1h1.25V550.0zM477.35 550.0V487.3h1.25V550.0zM478.71 550.0V485.8h1.25V550.0zM480.07 550.0V485.8h1.25V550.0zM481.44 550.0V505.8h1.25V550.0zM482.80 550.0V501.9h1.25V550.0zM484.17 550.0V501.9h1.25V550.0zM485.53 550.0V506.5h1.25V550.0zM486.89 550.0V506.5h1.25V550.0zM488.26 550.0V518.1h1.25V550.0zM489.62 550.0V509.9h1.25V550.0zM490.98 550.0V509.9h1.25V550.0zM492.35 550.0V490.4h1.25V550.0zM493.71 550.0V491.9h1.25V550.0zM495.08 550.0V509.6h1.25V550.0zM496.44 550.0V509.6h1.25V550.0zM497.80 550.0V522.7h1.25V550.0zM499.17 550.0V507.3h1.25V550.0zM500.53 550.0V507.3h1.25V550.0zM501.89 550.0V507.3h1.25V550.0zM503.26 550.0V507.3h1.25V550.0zM504.62 550.0V500.7h1.25V550.0zM505.98 550.0V492.7h1.25V550.0zM507.35 550.0V505.0h1.25V550.0zM508.71 550.0V514.2h1.25V550.0zM510.08 550.0V514.2h1.25V550.0zM511.44 550.0V508.1h1.25V550.0zM512.80 550.0V508.1h1.25V550.0zM514.17 550.0V505.8h1.25V550.0zM515.53 550.0V484.2h1.25V550.0zM516.89 550.0V505.8h1.25V550.0zM518.26 550.0V499.6h1.25V550.0zM519.62 550.0V499.6h1.25V550.0zM520.99 550.0V495.8h1.25V550.0zM522.35 550.0V495.8h1.25V550.0zM523.71 550.0V495.8h1.25V550.0zM525.08 550.0V511.2h1.25V550.0zM526.44 550.0V501.2h1.25V550.0zM527.80 550.0V501.2h1.25V550.0zM529.17 550.0V501.2h1.25V550.0zM530.53 550.0V506.5h1.25V550.0zM531.89 550.0V509.6h1.25V550.0zM533.26 550.0V515.0h1.25V550.0zM534.62 550.0V515.0h1.25V550.0zM535.99 550.0V515.0h1.25V550.0zM537.35 550.0V513.5h1.25V550.0zM538.71 550.0V513.5h1.25V550.0zM540.08 550.0V508.1h1.25V550.0zM541.44 550.0V509.6h1.25V550.0zM542.80 550.0V509.6h1.25V550.0zM544.17 550.0V505.8h1.25V550.0zM545.53 550.0V502.7h1.25V550.0zM546.90 550.0V502.7h1.25V550.0zM548.26 550.0V498.1h1.25V550.0zM549.62 550.0V491.2h1.25V550.0zM550.99 550.0V491.2h1.25V550.0zM552.35 550.0V491.2h1.25V550.0zM553.71 550.0V508.1h1.25V550.0zM555.08 550.0V501.2h1.25V550.0zM556.44 550.0V511.2h1.25V550.0zM557.81 550.0V511.2h1.25V550.0zM559.17 550.0V515.0h1.25V550.0zM560.53 550.0V515.0h1.25V550.0zM561.90 550.0V506.5h1.25V550.0zM563.26 550.0V504.2h1.25V550.0zM564.62 550.0V510.4h1.25V550.0zM565.99 550.0V510.4h1.25V550.0zM567.35 550.0V522.7h1.25V550.0zM568.71 550.0V522.7h1.25V550.0zM570.08 550.0V524.2h1.25V550.0zM571.44 550.0V500.4h1.25V550.0zM572.81 550.0V504.2h1.25V550.0zM574.17 550.0V504.2h1.25V550.0zM575.53 550.0V506.5h1.25V550.0zM576.90 550.0V503.5h1.25V550.0zM578.26 550.0V508.8h1.25V550.0zM579.62 550.0V508.8h1.25V550.0zM580.99 550.0V504.2h1.25V550.0zM582.35 550.0V509.6h1.25V550.0zM583.72 550.0V504.2h1.25V550.0zM585.08 550.0V504.2h1.25V550.0zM586.44 550.0V504.2h1.25V550.0zM587.81 550.0V512.7h1.25V550.0zM589.17 550.0V512.7h1.25V550.0zM590.53 550.0V513.5h1.25V550.0zM591.90 550.0V509.6h1.25V550.0zM593.26 550.0V501.2h1.25V550.0zM594.63 550.0V501.2h1.25V550.0zM595.99 550.0V503.5h1.25V550.0zM597.35 550.0V494.2h1.25V550.0zM598.72 550.0V491.5h1.25V550.0z"/>
<rect x="347.2" y="412.8" width="1.6" height="137.2" fill="#0850A2"/>
<polyline fill="none" stroke="#DE3A4E" stroke-width="2.4" stroke-linejoin="round" stroke-linecap="butt" points="54.6,468.4 59.2,468.4 61.1,475.8 62.6,481.2 65.4,483.2 69.2,482.2 71.5,476.5 74.6,474.2 78.5,471.9 81.5,473.0 84.6,471.2 86.9,472.4 89.2,468.4 91.5,471.5 94.6,469.9 96.9,476.5 98.5,479.6 100.0,477.6 102.3,482.7 104.6,485.8 107.2,489.9 110.0,484.2 113.1,486.2 115.4,485.0 117.7,480.4 120.8,481.2 123.5,485.0 126.2,487.3 127.7,486.5 130.0,488.4 132.3,485.8 134.6,481.2 137.7,479.6 140.8,479.2 143.8,476.1 146.9,478.5 149.2,484.2 150.0,484.2 153.1,485.8 156.2,488.1 158.5,494.2 160.8,495.0 163.1,498.1 165.4,493.5 169.2,492.7 172.3,495.0 174.6,492.7 178.5,495.8 180.8,490.4 182.6,487.8 185.4,489.6 190.8,488.4 193.8,492.4 196.9,491.2 200.8,492.7 204.6,497.3 208.5,500.1 211.5,497.3 213.8,501.2 216.9,505.8 220.8,507.3 223.1,513.5 225.4,516.5 228.5,515.0 230.8,511.2 233.8,509.6 236.9,510.4 240.0,511.9 242.3,508.1 245.4,505.3 247.7,506.8 250.0,508.1 253.1,505.8 256.9,506.2 260.0,509.6 263.1,511.9 265.4,512.4 267.7,506.8 270.0,504.2 272.3,503.2 275.4,505.8 278.5,508.4 280.8,505.3 283.8,502.7 286.9,499.2 290.0,500.4 293.1,500.1 296.2,501.9 299.2,501.2 303.1,500.1 306.9,502.7 309.2,498.8 311.5,495.8 314.6,493.5 318.5,491.2 321.5,490.8 325.4,495.0 328.5,492.7 330.0,490.0 332.3,485.4 334.6,481.5 337.7,478.8 340.8,476.2 343.1,472.3 345.4,466.2 347.7,464.6 350.8,463.1 353.1,464.6 355.4,466.9 357.7,459.2 360.8,458.2 363.8,460.8 366.9,463.1 370.0,460.8 372.3,459.2 374.6,463.1 377.7,463.4 380.0,459.2 382.0,456.2 384.2,458.2 386.6,462.8 391.5,461.8 393.8,456.2 396.9,454.2 399.5,453.1 402.3,449.2 405.4,446.2 408.2,441.8 410.0,444.6 410.0,444.6 411.5,449.2 414.6,446.2 417.7,445.4 421.1,449.2 423.8,441.8 426.9,440.8 430.0,440.8 431.5,446.2 433.1,456.2 434.6,459.2 436.5,464.6 439.2,459.7 441.5,459.2 443.8,460.8 446.2,459.2 448.5,454.6 450.3,454.2 452.8,457.2 455.4,455.1 458.0,453.8 460.8,464.6 463.1,462.8 465.4,461.5 468.5,467.7 471.5,466.5 475.4,464.9 478.5,474.6 481.5,483.8 484.6,484.9 487.7,480.0 490.8,480.0 493.8,485.4 496.2,483.1 498.5,479.2 502.3,480.3 504.6,480.8 507.7,484.6 510.0,482.3 510.8,481.2 513.1,483.5 515.4,490.4 518.5,492.7 522.3,494.5 525.4,492.4 528.5,495.8 531.5,493.9 534.6,490.8 537.7,488.1 541.5,489.3 545.4,491.2 548.5,494.2 550.8,495.5 553.1,494.2 556.2,495.0 559.2,491.9 563.1,490.4 566.2,489.3 569.2,485.0 572.3,485.8 575.4,484.2 578.5,483.2 581.5,484.2 584.6,480.4 587.7,479.2 590.8,475.5 593.5,476.1 596.2,476.1 598.5,479.2 599.7,480.4"/>
<polyline fill="none" stroke="#3C1246" stroke-width="2.4" stroke-linejoin="round" stroke-linecap="butt" points="54.6,401.8 115.5,401.8 116.2,405.4 125.2,405.4 125.9,409.1 165.6,409.1 166.3,412.8 184.7,412.8 185.4,416.4 221.6,416.4 222.3,420.1 236.4,420.1 237.1,423.8 410.4,423.8 411.6,438.5 599.5,438.5"/>
<text x="27.9" y="566.6" textLength="54.1" lengthAdjust="spacingAndGlyphs" fill="#605E5C" class="xl">Jan 2023</text>
<text x="107.4" y="566.6" textLength="57.1" lengthAdjust="spacingAndGlyphs" fill="#605E5C" class="xl">Mar 2023</text>
<text x="189.4" y="566.6" textLength="58.6" lengthAdjust="spacingAndGlyphs" fill="#605E5C" class="xl">May 2023</text>
<text x="277.4" y="566.6" textLength="48.6" lengthAdjust="spacingAndGlyphs" fill="#605E5C" class="xl">Jul 2023</text>
<text x="358.9" y="566.6" textLength="57.1" lengthAdjust="spacingAndGlyphs" fill="#605E5C" class="xl">Sep 2023</text>
<text x="440.4" y="566.6" textLength="58.8" lengthAdjust="spacingAndGlyphs" fill="#605E5C" class="xl">Nov 2023</text>
<text x="525.4" y="566.6" textLength="54.1" lengthAdjust="spacingAndGlyphs" fill="#605E5C" class="xl">Jan 2024</text>
<text x="18.4" y="320.9" textLength="82.4" lengthAdjust="spacingAndGlyphs" fill="#252423" class="tt">น้ำมันดีเซล</text>
<text x="107.4" y="320.9" textLength="18.6" lengthAdjust="spacingAndGlyphs" fill="#252423" class="tt">บี7</text>
<text x="132" y="320.9" textLength="95.2" lengthAdjust="spacingAndGlyphs" fill="#252423" class="tt">(บาทต่อลิตร)</text>
<circle cx="23.5" cy="341.9" r="4.4" fill="#0B4A9E"/>
<text x="30.7" y="347.1" textLength="67.7" lengthAdjust="spacingAndGlyphs" fill="#605E5C" class="lg">ค่าการตลาด</text>
<line x1="103.5" x2="130.3" y1="341.7" y2="341.7" stroke="#DE3A4E" stroke-width="1.7"/>
<text x="134.6" y="347.1" textLength="91.6" lengthAdjust="spacingAndGlyphs" fill="#605E5C" class="lg">ราคา ณ โรงกลั่น</text>
<line x1="230.7" x2="257.8" y1="341.7" y2="341.7" stroke="#3C1246" stroke-width="1.7"/>
<text x="262.1" y="347.1" textLength="74.2" lengthAdjust="spacingAndGlyphs" fill="#605E5C" class="lg">ราคาขายปลีก</text>
</svg>
</body></html>
